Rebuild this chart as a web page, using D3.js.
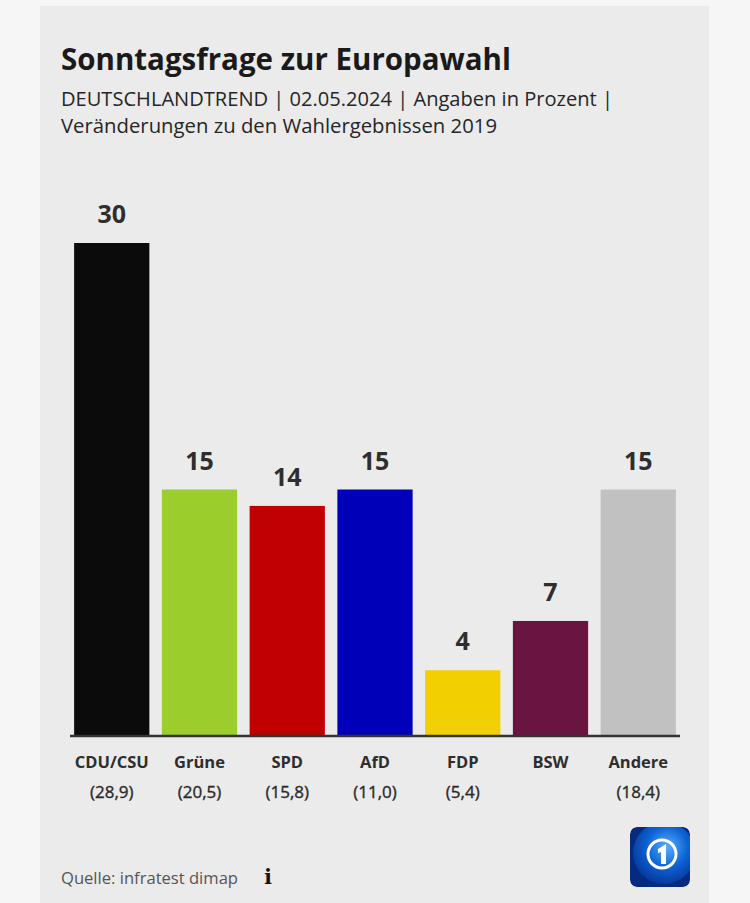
<!DOCTYPE html>
<html><head><meta charset="utf-8">
<script src="https://cdn.jsdelivr.net/npm/d3@7"></script>
<style>html,body{margin:0;padding:0;background:#f6f6f6;}svg{display:block;}</style>
</head><body>
<svg id="chart" width="750" height="903"></svg>
<script>
const categories = ["CDU/CSU","Grüne","SPD","AfD","FDP","BSW","Andere"];
const values = [30,15,14,15,4,7,15];
const previous = ["(28,9)","(20,5)","(15,8)","(11,0)","(5,4)","","(18,4)"];
const colors = ["#0b0b0b","#9bcd2c","#c00000","#0000b8","#f2cf00","#6a1541","#c1c1c1"];

const svg = d3.select("#chart");
const font = "'Open Sans', 'Noto Sans', sans-serif";

svg.append("rect").attr("x",40).attr("y",6).attr("width",669).attr("height",903)
  .attr("fill","#ebebeb");

function fitText(x,y,txt,size,weight,fill,len){
  return svg.append("text").attr("x",x).attr("y",y).text(txt)
    .attr("font-family",font).attr("font-size",size).attr("font-weight",weight)
    .attr("fill",fill).attr("textLength",len).attr("lengthAdjust","spacingAndGlyphs");
}
fitText(61,70,"Sonntagsfrage zur Europawahl",31,700,"#1a1a1a",450);
fitText(61,106,"DEUTSCHLANDTREND | 02.05.2024 | Angaben in Prozent |",20,400,"#262626",552);
fitText(61,133,"Veränderungen zu den Wahlergebnissen 2019",20,400,"#262626",436);

const x = d3.scaleBand().domain(categories).range([70,680]).paddingInner(0.1425).paddingOuter(0.047);
const y = d3.scaleLinear().domain([0,30]).range([736,243]);

const g = svg.append("g");
g.selectAll("rect.bar").data(categories).join("rect").attr("class","bar")
  .attr("x",d=>x(d)).attr("width",x.bandwidth())
  .attr("y",(d,i)=>y(values[i])).attr("height",(d,i)=>y(0)-y(values[i]))
  .attr("fill",(d,i)=>colors[i]);

g.selectAll("text.val").data(categories).join("text").attr("class","val")
  .attr("x",d=>x(d)+x.bandwidth()/2).attr("y",(d,i)=>y(values[i])-20)
  .attr("text-anchor","middle").attr("font-family",font).attr("font-weight",700)
  .attr("font-size",25).attr("fill","#2e2e2e").text((d,i)=>values[i]);

const axis = d3.axisBottom(x).tickSize(0).tickPadding(0);
const ax = svg.append("g").attr("transform","translate(0,736)").call(axis);
ax.select(".domain").attr("stroke","#333").attr("stroke-width",2.5).attr("d","M70,0H680");
ax.selectAll(".tick text").attr("y",32).attr("dy",null)
  .attr("font-family",font).attr("font-weight",700).attr("font-size",16.5).attr("fill","#2e2e2e");

ax.selectAll(".tick").append("text").attr("y",62).attr("text-anchor","middle")
  .attr("font-family",font).attr("font-size",17).attr("fill","#2a2a2a")
  .attr("stroke","#2a2a2a").attr("stroke-width",0.35)
  .text((d,i)=>previous[i]);

svg.append("text").attr("x",61).attr("y",884).text("Quelle: infratest dimap")
  .attr("font-family",font).attr("font-size",16).attr("fill","#555")
  .attr("textLength",177).attr("lengthAdjust","spacingAndGlyphs");
svg.append("text").attr("x",268).attr("y",884).attr("text-anchor","middle").text("i")
  .attr("font-family","'DejaVu Serif', serif").attr("font-weight",700).attr("font-size",20).attr("fill","#111");

// logo
const defs = svg.append("defs");
const rg = defs.append("radialGradient").attr("id","lg").attr("cx","0.55").attr("cy","0.4").attr("r","0.6");
rg.append("stop").attr("offset","0").attr("stop-color","#5ab0ff");
rg.append("stop").attr("offset","0.55").attr("stop-color","#0d62d4");
rg.append("stop").attr("offset","1").attr("stop-color","#063a9e");
defs.append("clipPath").attr("id","lc").append("rect").attr("width",60).attr("height",60).attr("rx",7);
const L = svg.append("g").attr("transform","translate(630,827)").attr("clip-path","url(#lc)");
L.append("rect").attr("width",60).attr("height",60).attr("rx",7).attr("fill","#052a80");
L.append("circle").attr("cx",34).attr("cy",26).attr("r",31).attr("fill","url(#lg)");
L.append("circle").attr("cx",32).attr("cy",27).attr("r",14).attr("fill","none").attr("stroke","#fff").attr("stroke-width",3);
L.append("path").attr("d","M28,22 L36,17 L36,37 L31,37 L31,25 L28,26 Z").attr("fill","#fff");
</script>
</body></html>
